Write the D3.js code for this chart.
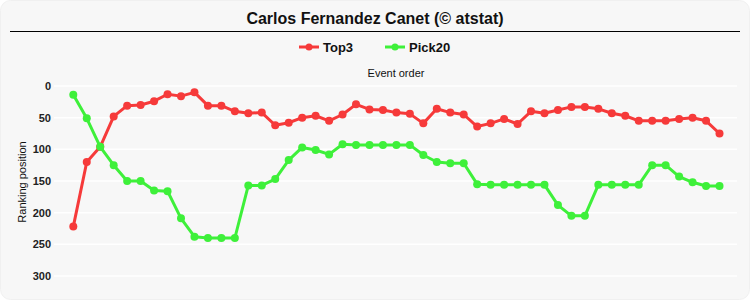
<!DOCTYPE html>
<html><head><meta charset="utf-8">
<script src="https://cdn.jsdelivr.net/npm/d3@7"></script>
<style>
html,body{margin:0;padding:0;background:#fff;}
svg{display:block;font-family:"Liberation Sans",Arial,sans-serif;}
</style></head>
<body><svg id="c" width="750" height="300"></svg>
<script>
const title = "Carlos Fernandez Canet (© atstat)";
const seriesNames = ["Top3", "Pick20"];
const seriesColors = ["#f63a3a", "#3ef03a"];
const top3 = [222,120,96,48,31,30,24,13,16,10,31,31,40,43,42,62,58,50,47,55,45,29,37,38,42,44,59,36,42,45,64,59,52,60,40,43,38,33,33,36,43,47,55,55,55,52,50,55,75];
const pick20 = [14,51,96,125,150,150,165,166,209,238,240,240,240,157,157,147,117,97,101,108,92,93,93,93,93,93,109,120,122,122,155,156,156,156,156,156,188,205,205,156,156,156,156,125,125,143,152,158,158];
const yTicks = [0,50,100,150,200,250,300];
const xLabel = "Event order";
const yLabel = "Ranking position";

const svg = d3.select("#c");
svg.append("rect").attr("x",0.5).attr("y",0.5).attr("width",749).attr("height",299)
  .attr("rx",10).attr("fill","#f7f7f7").attr("stroke","#f0f0f0");

svg.append("text").attr("x",375).attr("y",24).attr("text-anchor","middle")
  .attr("font-size",16).attr("font-weight","bold").attr("fill","#111").text(title);
svg.append("line").attr("x1",10).attr("x2",740).attr("y1",31.5).attr("y2",31.5)
  .attr("stroke","#000").attr("stroke-width",1.2);

const x = d3.scaleLinear().domain([0, top3.length-1]).range([73.3, 719.5]);
const y = d3.scaleLinear().domain([0,300]).range([86,276]);

// gridlines
svg.append("g").selectAll("line").data(yTicks).join("line")
  .attr("x1",54).attr("x2",737).attr("y1",d=>y(d)).attr("y2",d=>y(d))
  .attr("stroke","#ffffff").attr("stroke-width",1.5);

const yAxis = d3.axisLeft(y).tickValues(yTicks).tickSize(0).tickPadding(0);
const ga = svg.append("g").attr("transform","translate(51,0)").call(yAxis);
ga.select(".domain").remove();
ga.selectAll("text").attr("font-size",11).attr("font-weight","bold").attr("fill","#222")
  .attr("font-family","'Liberation Sans',Arial,sans-serif");

svg.append("text").attr("transform","translate(26,182) rotate(-90)").attr("text-anchor","middle")
  .attr("font-size",11).attr("fill","#111").text(yLabel);
svg.append("text").attr("x",396).attr("y",77).attr("text-anchor","middle")
  .attr("font-size",11).attr("fill","#111").text(xLabel);

// legend
const legendX = [299, 385];
seriesNames.forEach((n,i)=>{
  const g = svg.append("g").attr("transform",`translate(${legendX[i]},47)`);
  g.append("line").attr("x1",0).attr("x2",20).attr("y1",0).attr("y2",0)
    .attr("stroke",seriesColors[i]).attr("stroke-width",3);
  g.append("circle").attr("cx",10).attr("cy",0).attr("r",3.5).attr("fill",seriesColors[i]);
  g.append("text").attr("x",24).attr("y",5).attr("font-size",13).attr("font-weight","bold")
    .attr("fill","#111").text(n);
});

const line = d3.line().x((d,i)=>x(i)).y(d=>y(d));
[top3, pick20].forEach((s,k)=>{
  svg.append("path").datum(s).attr("d",line).attr("fill","none")
    .attr("stroke",seriesColors[k]).attr("stroke-width",3).attr("stroke-linejoin","round");
  svg.append("g").selectAll("circle").data(s).join("circle")
    .attr("cx",(d,i)=>x(i)).attr("cy",d=>y(d)).attr("r",4).attr("fill",seriesColors[k]);
});
</script></body></html>
